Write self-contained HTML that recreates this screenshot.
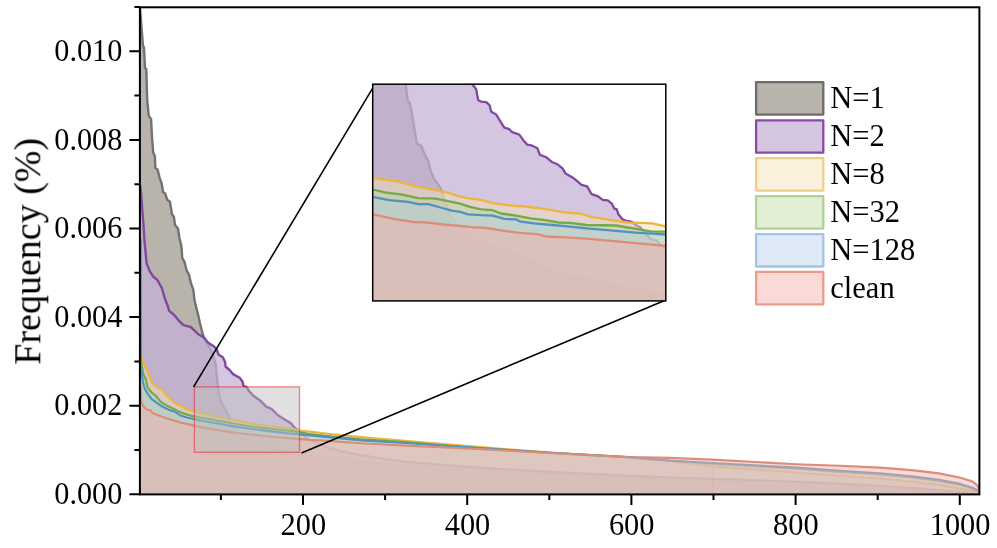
<!DOCTYPE html>
<html><head><meta charset="utf-8"><title>chart</title>
<style>
html,body{margin:0;padding:0;background:#fff;}
body{width:997px;height:548px;overflow:hidden;}
svg{display:block;font-family:"Liberation Serif",serif;}
</style></head><body>
<svg width="997" height="548" viewBox="0 0 997 548">
<rect x="0" y="0" width="997" height="548" fill="#fff"/>
<defs><clipPath id="cm"><rect x="139.9" y="7.3" width="839.5" height="487.1"/></clipPath><clipPath id="ci"><rect x="372.7" y="84.2" width="293.1" height="216.7"/></clipPath></defs>
<g clip-path="url(#cm)">
<polygon points="139.9,494.4 140.0,7.5 143.0,46.0 144.0,47.5 145.0,68.0 146.3,69.0 147.2,100.0 148.8,116.0 151.1,119.2 152.0,137.0 153.2,152.4 154.9,156.2 155.3,167.9 157.5,169.4 159.7,178.1 161.6,183.2 163.1,192.0 165.1,193.5 167.4,200.0 169.9,201.8 172.1,214.6 173.9,216.8 175.0,224.9 178.0,228.5 179.4,238.0 181.0,244.0 181.6,248.8 182.3,258.2 184.5,261.9 186.7,270.7 188.9,274.3 191.1,283.8 193.3,289.6 194.7,301.3 196.9,310.1 198.4,316.0 200.1,323.8 203.1,335.4 206.7,342.7 211.1,350.0 214.0,358.8 215.5,363.2 216.9,376.3 217.6,384.4 219.9,399.0 224.3,407.7 229.4,417.2 233.0,425.0 237.5,433.0 242.0,437.0 248.0,439.5 254.0,441.0 260.0,443.5 272.0,448.3 286.0,451.3 300.0,454.0 320.0,456.5 350.0,460.0 390.0,464.5 430.0,467.5 490.0,471.5 550.0,475.0 630.0,479.0 680.0,481.0 760.0,484.0 830.0,486.5 880.0,488.5 938.0,491.5 979.0,494.0 979.4,494.4" fill="#b8b4ac" fill-opacity="1.00"/>
<polyline points="140.0,7.5 143.0,46.0 144.0,47.5 145.0,68.0 146.3,69.0 147.2,100.0 148.8,116.0 151.1,119.2 152.0,137.0 153.2,152.4 154.9,156.2 155.3,167.9 157.5,169.4 159.7,178.1 161.6,183.2 163.1,192.0 165.1,193.5 167.4,200.0 169.9,201.8 172.1,214.6 173.9,216.8 175.0,224.9 178.0,228.5 179.4,238.0 181.0,244.0 181.6,248.8 182.3,258.2 184.5,261.9 186.7,270.7 188.9,274.3 191.1,283.8 193.3,289.6 194.7,301.3 196.9,310.1 198.4,316.0 200.1,323.8 203.1,335.4 206.7,342.7 211.1,350.0 214.0,358.8 215.5,363.2 216.9,376.3 217.6,384.4 219.9,399.0 224.3,407.7 229.4,417.2 233.0,425.0 237.5,433.0 242.0,437.0 248.0,439.5 254.0,441.0 260.0,443.5 272.0,448.3 286.0,451.3 300.0,454.0 320.0,456.5 350.0,460.0 390.0,464.5 430.0,467.5 490.0,471.5 550.0,475.0 630.0,479.0 680.0,481.0 760.0,484.0 830.0,486.5 880.0,488.5 938.0,491.5 979.0,494.0" fill="none" stroke="#727274" stroke-width="2.40" stroke-linejoin="round"/>
<polygon points="139.9,494.4 140.0,185.0 141.2,194.2 142.2,208.8 143.6,226.3 144.4,240.0 145.8,254.6 146.6,263.4 149.5,270.7 153.1,276.5 157.5,280.1 161.9,288.2 164.8,298.4 167.7,305.7 169.2,310.8 173.6,314.5 179.0,320.8 183.4,325.2 190.7,327.0 194.3,330.3 198.0,334.0 203.8,337.6 208.2,342.7 214.0,346.4 216.9,350.0 218.4,354.4 222.8,357.3 225.0,361.7 225.7,366.8 229.3,369.7 233.0,374.1 239.6,377.8 242.5,381.4 243.5,386.0 246.6,387.0 248.4,390.2 252.8,395.3 260.1,400.4 265.9,406.3 271.8,409.2 277.6,415.0 283.4,418.7 290.7,423.1 295.1,428.2 298.8,430.4 302.0,433.5 305.0,437.0 308.0,439.3 317.0,443.2 328.0,447.6 344.7,452.0 361.0,455.3 383.0,458.6 405.0,461.7 430.0,464.0 490.0,468.5 550.0,472.0 630.0,476.0 680.0,478.0 760.0,480.5 830.0,483.2 880.0,486.0 938.0,490.0 979.0,493.5 979.4,494.4" fill="rgb(196,176,212)" fill-opacity="0.73"/>
<polyline points="140.0,185.0 141.2,194.2 142.2,208.8 143.6,226.3 144.4,240.0 145.8,254.6 146.6,263.4 149.5,270.7 153.1,276.5 157.5,280.1 161.9,288.2 164.8,298.4 167.7,305.7 169.2,310.8 173.6,314.5 179.0,320.8 183.4,325.2 190.7,327.0 194.3,330.3 198.0,334.0 203.8,337.6 208.2,342.7 214.0,346.4 216.9,350.0 218.4,354.4 222.8,357.3 225.0,361.7 225.7,366.8 229.3,369.7 233.0,374.1 239.6,377.8 242.5,381.4 243.5,386.0 246.6,387.0 248.4,390.2 252.8,395.3 260.1,400.4 265.9,406.3 271.8,409.2 277.6,415.0 283.4,418.7 290.7,423.1 295.1,428.2 298.8,430.4 302.0,433.5 305.0,437.0 308.0,439.3 317.0,443.2 328.0,447.6 344.7,452.0 361.0,455.3 383.0,458.6 405.0,461.7 430.0,464.0 490.0,468.5 550.0,472.0 630.0,476.0 680.0,478.0 760.0,480.5 830.0,483.2 880.0,486.0 938.0,490.0 979.0,493.5" fill="none" stroke="#8048a0" stroke-width="2.40" stroke-linejoin="round"/>
<polygon points="139.9,494.4 140.6,236.0 141.0,356.0 142.2,358.1 144.2,364.6 147.5,371.2 150.0,377.8 152.4,383.0 157.3,387.6 162.3,389.3 165.6,394.2 170.5,399.1 175.4,403.2 182.0,406.5 188.5,409.8 194.4,411.4 204.6,414.3 219.2,417.2 233.8,420.1 248.4,423.1 263.0,425.3 277.6,427.0 292.2,428.9 301.0,430.8 310.0,431.6 328.0,433.8 361.0,437.1 405.0,440.8 440.5,443.9 490.0,447.9 550.0,452.5 630.5,457.5 670.0,461.0 712.0,466.4 796.0,472.5 840.0,475.8 880.0,478.5 913.8,481.9 938.9,484.9 960.7,488.6 979.0,492.5 979.4,494.4" fill="rgb(243,227,184)" fill-opacity="0.49"/>
<polyline points="140.6,236.0 141.0,356.0 142.2,358.1 144.2,364.6 147.5,371.2 150.0,377.8 152.4,383.0 157.3,387.6 162.3,389.3 165.6,394.2 170.5,399.1 175.4,403.2 182.0,406.5 188.5,409.8 194.4,411.4 204.6,414.3 219.2,417.2 233.8,420.1 248.4,423.1 263.0,425.3 277.6,427.0 292.2,428.9 301.0,430.8 310.0,431.6 328.0,433.8 361.0,437.1 405.0,440.8 440.5,443.9 490.0,447.9 550.0,452.5 630.5,457.5 670.0,461.0 712.0,466.4 796.0,472.5 840.0,475.8 880.0,478.5 913.8,481.9 938.9,484.9 960.7,488.6 979.0,492.5" fill="none" stroke="#ecb63c" stroke-width="2.10" stroke-linejoin="round"/>
<polygon points="139.9,494.4 140.6,238.0 140.9,360.0 141.7,364.6 143.4,374.5 145.9,379.4 147.5,387.6 151.6,392.5 155.7,395.8 160.6,401.6 165.6,404.9 172.1,408.1 178.7,411.4 185.3,413.9 193.5,416.4 204.6,418.2 219.2,420.9 233.8,423.5 248.4,426.0 263.0,427.9 277.6,429.6 292.2,431.1 301.0,432.6 310.0,434.0 328.0,436.0 361.0,439.4 405.0,442.0 440.5,445.0 490.0,448.7 550.0,452.7 630.5,457.4 670.0,460.5 712.0,463.8 796.0,468.8 840.0,472.0 880.0,474.5 913.8,477.8 938.9,481.0 960.7,485.0 972.4,488.6 979.0,491.5 979.4,494.4" fill="rgb(180,215,147)" fill-opacity="0.40"/>
<polyline points="140.6,238.0 140.9,360.0 141.7,364.6 143.4,374.5 145.9,379.4 147.5,387.6 151.6,392.5 155.7,395.8 160.6,401.6 165.6,404.9 172.1,408.1 178.7,411.4 185.3,413.9 193.5,416.4 204.6,418.2 219.2,420.9 233.8,423.5 248.4,426.0 263.0,427.9 277.6,429.6 292.2,431.1 301.0,432.6 310.0,434.0 328.0,436.0 361.0,439.4 405.0,442.0 440.5,445.0 490.0,448.7 550.0,452.7 630.5,457.4 670.0,460.5 712.0,463.8 796.0,468.8 840.0,472.0 880.0,474.5 913.8,477.8 938.9,481.0 960.7,485.0 972.4,488.6 979.0,491.5" fill="none" stroke="#72aa4a" stroke-width="2.10" stroke-linejoin="round"/>
<polygon points="139.9,494.4 140.6,240.0 140.9,366.0 141.7,372.8 142.9,382.7 145.0,389.3 147.5,393.4 151.6,399.1 157.3,403.2 162.3,406.5 168.8,409.8 175.4,411.9 180.3,415.5 186.9,417.5 193.5,419.1 204.6,421.2 219.2,423.8 233.8,426.4 248.4,428.5 263.0,430.4 277.6,432.1 292.2,433.7 310.0,435.4 328.0,437.1 361.0,440.4 405.0,443.0 440.5,445.5 490.0,448.9 550.0,452.9 630.5,457.4 670.0,460.8 712.0,463.0 796.0,467.5 840.0,470.7 880.0,473.2 913.8,476.5 938.9,479.7 960.7,483.9 972.4,487.7 979.0,491.0 979.4,494.4" fill="rgb(172,205,232)" fill-opacity="0.40"/>
<polyline points="140.6,240.0 140.9,366.0 141.7,372.8 142.9,382.7 145.0,389.3 147.5,393.4 151.6,399.1 157.3,403.2 162.3,406.5 168.8,409.8 175.4,411.9 180.3,415.5 186.9,417.5 193.5,419.1 204.6,421.2 219.2,423.8 233.8,426.4 248.4,428.5 263.0,430.4 277.6,432.1 292.2,433.7 310.0,435.4 328.0,437.1 361.0,440.4 405.0,443.0 440.5,445.5 490.0,448.9 550.0,452.9 630.5,457.4 670.0,460.8 712.0,463.0 796.0,467.5 840.0,470.7 880.0,473.2 913.8,476.5 938.9,479.7 960.7,483.9 972.4,487.7 979.0,491.0" fill="none" stroke="#4f92c4" stroke-width="2.10" stroke-linejoin="round"/>
<polygon points="139.9,494.4 140.6,386.0 140.9,398.0 141.7,403.2 144.2,407.3 147.5,409.8 150.8,410.6 152.4,413.1 159.0,415.5 165.6,418.0 173.8,420.5 182.0,422.9 193.5,425.4 204.6,427.9 219.2,430.4 233.8,432.6 248.4,434.3 263.0,435.9 277.6,437.2 292.2,438.4 310.0,439.9 328.0,440.9 361.0,443.2 405.0,445.6 440.5,447.3 490.0,449.6 550.0,453.0 630.5,457.0 670.0,457.9 712.0,459.6 796.0,464.3 840.0,465.8 880.3,467.6 913.8,470.4 938.9,473.4 960.7,477.8 972.4,481.4 977.4,485.4 979.0,489.0 979.4,494.4" fill="rgb(245,178,174)" fill-opacity="0.49"/>
<polyline points="140.6,386.0 140.9,398.0 141.7,403.2 144.2,407.3 147.5,409.8 150.8,410.6 152.4,413.1 159.0,415.5 165.6,418.0 173.8,420.5 182.0,422.9 193.5,425.4 204.6,427.9 219.2,430.4 233.8,432.6 248.4,434.3 263.0,435.9 277.6,437.2 292.2,438.4 310.0,439.9 328.0,440.9 361.0,443.2 405.0,445.6 440.5,447.3 490.0,449.6 550.0,453.0 630.5,457.0 670.0,457.9 712.0,459.6 796.0,464.3 840.0,465.8 880.3,467.6 913.8,470.4 938.9,473.4 960.7,477.8 972.4,481.4 977.4,485.4 979.0,489.0" fill="none" stroke="#dc8c78" stroke-width="2.10" stroke-linejoin="round"/>
<line x1="712.8" y1="459.5" x2="712.8" y2="494" stroke="#e86a5a" stroke-opacity="0.12" stroke-width="1"/>
</g>
<rect x="194.4" y="386.9" width="105.1" height="65.4" fill="rgb(189,189,189)" fill-opacity="0.47" stroke="rgb(240,40,50)" stroke-opacity="0.55" stroke-width="1.4"/>
<line x1="193.6" y1="386.8" x2="372.7" y2="88.2" stroke="#000" stroke-width="1.6"/>
<line x1="301.5" y1="453" x2="665.8" y2="299.9" stroke="#000" stroke-width="1.6"/>
<rect x="372.7" y="84.2" width="293.1" height="216.7" fill="#fff"/>
<g clip-path="url(#ci)">
<polygon points="372.7,300.9 372.7,79.2 405.6,79.2 405.7,84.2 407.7,100.8 409.9,103.0 412.5,117.2 415.1,132.6 416.9,143.5 421.3,145.7 424.6,154.4 427.8,159.9 431.1,172.0 434.4,179.6 438.8,185.1 442.1,191.7 445.0,201.5 451.0,216.5 456.1,223.8 463.4,229.0 470.0,234.0 476.4,240.6 492.8,247.2 509.3,252.1 525.7,258.7 560.0,273.2 600.1,282.3 640.3,290.3 665.8,295.6 665.8,300.9" fill="#b8b4ac" fill-opacity="1.00"/>
<polyline points="372.7,79.2 405.6,79.2 405.7,84.2 407.7,100.8 409.9,103.0 412.5,117.2 415.1,132.6 416.9,143.5 421.3,145.7 424.6,154.4 427.8,159.9 431.1,172.0 434.4,179.6 438.8,185.1 442.1,191.7 445.0,201.5 451.0,216.5 456.1,223.8 463.4,229.0 470.0,234.0 476.4,240.6 492.8,247.2 509.3,252.1 525.7,258.7 560.0,273.2 600.1,282.3 640.3,290.3 665.8,295.6" fill="none" stroke="#727274" stroke-width="2.30" stroke-linejoin="round"/>
<polygon points="372.7,300.9 372.7,79.2 472.0,79.2 472.1,84.0 476.1,89.0 478.2,100.1 481.2,101.7 486.2,102.1 489.6,105.1 491.2,111.7 496.2,114.5 500.2,121.2 504.3,127.6 509.3,129.2 512.3,132.2 519.3,134.6 523.3,140.2 527.3,144.7 531.4,145.3 537.4,148.3 539.8,154.7 546.4,157.3 552.4,162.3 557.5,164.3 562.5,168.4 565.5,173.4 572.5,177.4 576.6,180.7 581.5,184.8 587.2,186.4 591.3,193.8 597.9,196.3 602.8,199.9 607.8,200.4 611.9,203.7 614.3,208.6 616.8,209.4 618.4,214.3 622.5,219.3 627.5,221.2 631.6,221.7 635.7,225.0 640.6,227.5 645.5,233.2 650.5,239.0 657.0,240.6 659.5,243.9 665.8,250.0 665.8,300.9" fill="rgb(196,176,212)" fill-opacity="0.73"/>
<polyline points="372.7,79.2 472.0,79.2 472.1,84.0 476.1,89.0 478.2,100.1 481.2,101.7 486.2,102.1 489.6,105.1 491.2,111.7 496.2,114.5 500.2,121.2 504.3,127.6 509.3,129.2 512.3,132.2 519.3,134.6 523.3,140.2 527.3,144.7 531.4,145.3 537.4,148.3 539.8,154.7 546.4,157.3 552.4,162.3 557.5,164.3 562.5,168.4 565.5,173.4 572.5,177.4 576.6,180.7 581.5,184.8 587.2,186.4 591.3,193.8 597.9,196.3 602.8,199.9 607.8,200.4 611.9,203.7 614.3,208.6 616.8,209.4 618.4,214.3 622.5,219.3 627.5,221.2 631.6,221.7 635.7,225.0 640.6,227.5 645.5,233.2 650.5,239.0 657.0,240.6 659.5,243.9 665.8,250.0" fill="none" stroke="#8048a0" stroke-width="2.30" stroke-linejoin="round"/>
<polygon points="372.7,300.9 372.7,178.0 397.7,181.4 412.3,185.5 428.4,188.8 448.8,192.8 457.6,196.0 460.0,196.3 469.9,198.7 481.3,199.9 492.8,203.2 509.3,205.3 525.7,206.5 542.1,208.6 552.0,210.2 565.1,212.5 579.9,213.5 591.3,216.8 611.0,220.1 627.5,222.5 640.6,222.9 652.1,223.4 665.8,226.3 665.8,300.9" fill="rgb(243,227,184)" fill-opacity="0.49"/>
<polyline points="372.7,178.0 397.7,181.4 412.3,185.5 428.4,188.8 448.8,192.8 457.6,196.0 460.0,196.3 469.9,198.7 481.3,199.9 492.8,203.2 509.3,205.3 525.7,206.5 542.1,208.6 552.0,210.2 565.1,212.5 579.9,213.5 591.3,216.8 611.0,220.1 627.5,222.5 640.6,222.9 652.1,223.4 665.8,226.3" fill="none" stroke="#ecb63c" stroke-width="2.30" stroke-linejoin="round"/>
<polygon points="372.7,300.9 372.7,189.5 384.6,192.4 402.1,194.6 418.2,198.2 435.7,198.7 451.8,201.9 460.0,203.7 469.9,206.9 481.3,209.4 492.8,210.2 501.0,213.5 515.8,215.6 530.6,218.4 545.4,220.1 558.5,222.5 570.0,222.9 586.4,225.0 616.0,225.5 627.5,227.5 642.2,229.9 652.1,231.6 665.8,231.6 665.8,300.9" fill="rgb(180,215,147)" fill-opacity="0.40"/>
<polyline points="372.7,189.5 384.6,192.4 402.1,194.6 418.2,198.2 435.7,198.7 451.8,201.9 460.0,203.7 469.9,206.9 481.3,209.4 492.8,210.2 501.0,213.5 515.8,215.6 530.6,218.4 545.4,220.1 558.5,222.5 570.0,222.9 586.4,225.0 616.0,225.5 627.5,227.5 642.2,229.9 652.1,231.6 665.8,231.6" fill="none" stroke="#72aa4a" stroke-width="2.30" stroke-linejoin="round"/>
<polygon points="372.7,300.9 372.7,196.8 389.0,200.1 408.0,201.9 418.2,204.1 428.4,204.1 438.6,207.0 451.8,210.7 460.0,211.9 468.2,214.3 481.3,215.2 492.8,215.6 504.3,218.9 515.8,219.3 520.8,221.7 533.9,223.4 552.0,225.0 565.1,226.2 570.0,226.7 586.4,228.3 616.0,230.8 635.7,232.7 652.1,233.7 665.8,234.5 665.8,300.9" fill="rgb(172,205,232)" fill-opacity="0.40"/>
<polyline points="372.7,196.8 389.0,200.1 408.0,201.9 418.2,204.1 428.4,204.1 438.6,207.0 451.8,210.7 460.0,211.9 468.2,214.3 481.3,215.2 492.8,215.6 504.3,218.9 515.8,219.3 520.8,221.7 533.9,223.4 552.0,225.0 565.1,226.2 570.0,226.7 586.4,228.3 616.0,230.8 635.7,232.7 652.1,233.7 665.8,234.5" fill="none" stroke="#4f92c4" stroke-width="2.30" stroke-linejoin="round"/>
<polygon points="372.7,300.9 372.7,214.3 384.6,216.8 396.3,219.4 413.8,222.0 428.4,222.6 443.0,224.5 460.0,225.8 471.5,227.1 486.3,227.8 497.8,229.9 517.5,232.7 538.8,234.4 545.4,236.5 565.1,237.3 586.4,238.6 611.0,240.9 635.7,243.1 652.1,244.7 665.8,246.0 665.8,300.9" fill="rgb(245,178,174)" fill-opacity="0.49"/>
<polyline points="372.7,214.3 384.6,216.8 396.3,219.4 413.8,222.0 428.4,222.6 443.0,224.5 460.0,225.8 471.5,227.1 486.3,227.8 497.8,229.9 517.5,232.7 538.8,234.4 545.4,236.5 565.1,237.3 586.4,238.6 611.0,240.9 635.7,243.1 652.1,244.7 665.8,246.0" fill="none" stroke="#dc8c78" stroke-width="2.30" stroke-linejoin="round"/>
</g>
<rect x="372.7" y="84.2" width="293.1" height="216.7" fill="none" stroke="#000" stroke-width="1.5"/>
<rect x="139.9" y="7.3" width="839.5" height="487.1" fill="none" stroke="#000" stroke-width="2"/>
<path d="M139.9 494.3H129.4M139.9 450.0H134.4M139.9 405.7H129.4M139.9 361.4H134.4M139.9 317.1H129.4M139.9 272.8H134.4M139.9 228.5H129.4M139.9 184.2H134.4M139.9 139.9H129.4M139.9 95.6H134.4M139.9 51.3H129.4M139.9 7.0H134.4M220.9 494.4V499.9M303.0 494.4V504.9M385.1 494.4V499.9M467.2 494.4V504.9M549.3 494.4V499.9M631.4 494.4V504.9M713.5 494.4V499.9M795.6 494.4V504.9M877.7 494.4V499.9M959.8 494.4V504.9" stroke="#000" stroke-width="2" fill="none"/>
<g opacity="0.999">
<text transform="translate(122.3,503.9) scale(0.975,1)" font-size="31.0" text-anchor="end">0.000</text>
<text transform="translate(122.3,415.3) scale(0.975,1)" font-size="31.0" text-anchor="end">0.002</text>
<text transform="translate(122.3,326.7) scale(0.975,1)" font-size="31.0" text-anchor="end">0.004</text>
<text transform="translate(122.3,238.1) scale(0.975,1)" font-size="31.0" text-anchor="end">0.006</text>
<text transform="translate(122.3,149.5) scale(0.975,1)" font-size="31.0" text-anchor="end">0.008</text>
<text transform="translate(122.3,60.9) scale(0.975,1)" font-size="31.0" text-anchor="end">0.010</text>
<text transform="translate(303.3,535.3) scale(0.98,1)" font-size="31.0" text-anchor="middle">200</text>
<text transform="translate(467.5,535.3) scale(0.98,1)" font-size="31.0" text-anchor="middle">400</text>
<text transform="translate(631.7,535.3) scale(0.98,1)" font-size="31.0" text-anchor="middle">600</text>
<text transform="translate(795.9,535.3) scale(0.98,1)" font-size="31.0" text-anchor="middle">800</text>
<text transform="translate(960.1,535.3) scale(0.98,1)" font-size="31.0" text-anchor="middle">1000</text>
<text transform="translate(40.3,251.3) rotate(-90)" font-size="38" text-anchor="middle">Frequency (%)</text>
<rect x="756.1" y="82.2" width="67.2" height="32.4" fill="#b8b4ac" stroke="#6c6c6e" stroke-width="2.3" stroke-linejoin="round"/>
<text x="830.3" y="108.1" font-size="30.5">N=1</text>
<rect x="756.1" y="120.3" width="67.2" height="32.4" fill="#d4c6e0" stroke="#8a4aa6" stroke-width="2.3" stroke-linejoin="round"/>
<text x="830.3" y="146.2" font-size="30.5">N=2</text>
<rect x="756.1" y="158.2" width="67.2" height="32.4" fill="#f9f1dc" stroke="#f0cf85" stroke-width="2.3" stroke-linejoin="round"/>
<text x="830.3" y="184.1" font-size="30.5">N=8</text>
<rect x="756.1" y="196.2" width="67.2" height="32.4" fill="#e1efd4" stroke="#b0d09a" stroke-width="2.3" stroke-linejoin="round"/>
<text x="830.3" y="222.1" font-size="30.5">N=32</text>
<rect x="756.1" y="234.1" width="67.2" height="32.4" fill="#deebf6" stroke="#a3c4e3" stroke-width="2.3" stroke-linejoin="round"/>
<text x="830.3" y="260.0" font-size="30.5">N=128</text>
<rect x="756.1" y="271.9" width="67.2" height="32.4" fill="#fad9d7" stroke="#eb9c8c" stroke-width="2.3" stroke-linejoin="round"/>
<text x="830.3" y="297.8" font-size="30.5">clean</text>
</g>
</svg>
</body></html>
